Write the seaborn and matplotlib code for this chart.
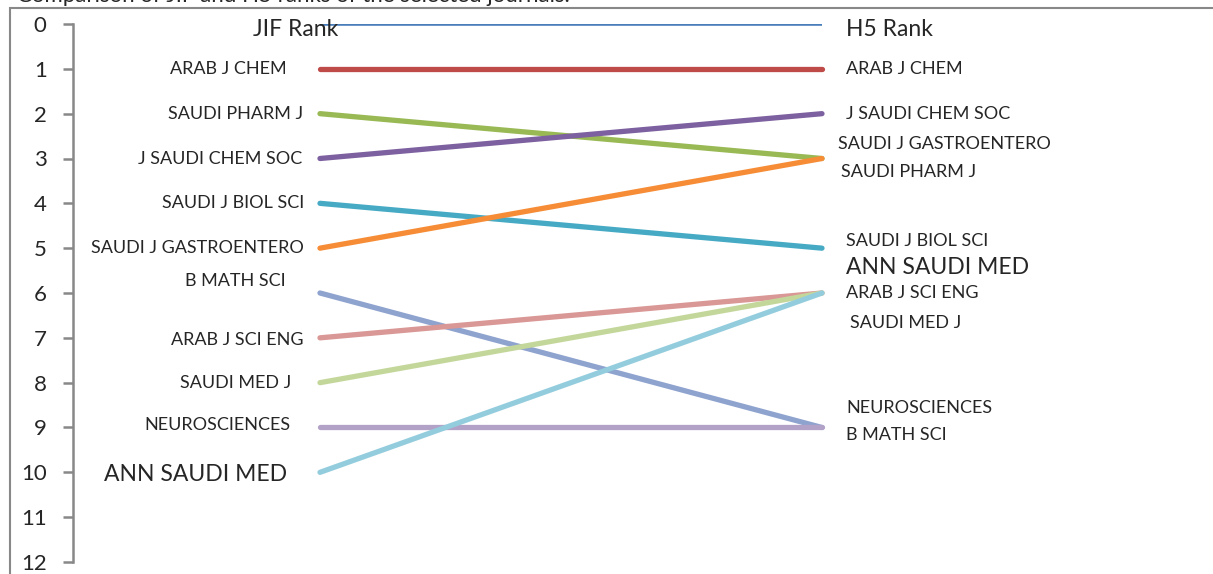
import pandas as pd
import numpy as np
import matplotlib.pyplot as plt
from matplotlib.patches import Rectangle
from matplotlib.transforms import offset_copy
import seaborn as sns

# ── Data ─────────────────────────────────────────────────────────────────────
journals = ["HEADER", "ARAB J CHEM", "SAUDI PHARM J", "J SAUDI CHEM SOC",
            "SAUDI J BIOL SCI", "SAUDI J GASTROENTERO", "B MATH SCI",
            "ARAB J SCI ENG", "SAUDI MED J", "NEUROSCIENCES", "ANN SAUDI MED"]
jif_rank = [0, 1, 2, 3, 4, 5, 6, 7, 8, 9, 10]
h5_rank = [0, 1, 3, 2, 5, 3, 9, 6, 6, 9, 6]
colors = ["#4A7EBB", "#BE4B48", "#98B954", "#7D60A0", "#46AAC5", "#F68C36",
          "#8FA3CF", "#D99795", "#C4D79B", "#B3A2C7", "#93CDDD"]
y_ticks = list(range(0, 13))

# label layout (offsets in rank units / pixels), not data
left_dy = [0.13, 0, 0, 0, 0, 0, -0.27, 0.05, 0, -0.05, 0.04]
left_dx = [18, -33, -17, -18, -16, -16, -34, -16, -29, -29, -33]
right_dy = [0.13, 0, 0.3, 0, -0.16, -0.32, 0.17, 0, 0.67, -0.43, -0.56]
right_dx = [24, 24, 19, 24, 24, 16, 24, 24, 28, 24, 24]
big = {"HEADER", "ANN SAUDI MED"}

df = pd.DataFrame({"journal": journals * 2,
                   "side": [0] * len(journals) + [1] * len(journals),
                   "rank": jif_rank + h5_rank})

sns.set_style("white")
plt.rcParams["font.family"] = ["Lato", "DejaVu Sans"]

fig = plt.figure(figsize=(12.13, 5.74), dpi=100)
ax = fig.add_axes([73 / 1213, 12 / 574, 1140 / 1213, 538 / 574])

pal = dict(zip(journals, colors))
sns.lineplot(data=df, x="side", y="rank", hue="journal", palette=pal,
             hue_order=journals, legend=False, ax=ax, lw=3.8,
             solid_capstyle="round")
ax.lines[0].set_linewidth(2.6)
ax.lines[0].set_solid_capstyle("butt")

ax.set_xlim(-0.492, -0.492 + 1140 / 502)
ax.set_ylim(12, 0)
ax.set_yticks(y_ticks)
ax.set_yticklabels([str(t) for t in y_ticks], fontsize=16)
ax.set_xticks([])
ax.set_xlabel("")
ax.set_ylabel("")
for s in ["top", "right", "bottom"]:
    ax.spines[s].set_visible(False)
ax.spines["left"].set_color("#888888")
ax.spines["left"].set_linewidth(1.8)
ax.tick_params(axis="y", direction="out", length=7, width=1.8,
               color="#888888", pad=12, left=True)

for i, name in enumerate(journals):
    lab_l = "JIF Rank" if name == "HEADER" else name
    lab_r = "H5 Rank" if name == "HEADER" else name
    fs = 16.5 if name in big else 13
    tl = offset_copy(ax.transData, fig=fig, x=left_dx[i] * 0.72, y=0, units="points")
    tr = offset_copy(ax.transData, fig=fig, x=right_dx[i] * 0.72, y=0, units="points")
    ax.text(0, jif_rank[i] + left_dy[i], lab_l, ha="right", va="center",
            fontsize=fs, transform=tl)
    ax.text(1, h5_rank[i] + right_dy[i], lab_r, ha="left", va="center",
            fontsize=fs, transform=tr)

# outer chart frame, clipped by the image edges
fig.patches.append(Rectangle((10 / 1213, -0.1), 1.2, (574 - 8) / 574 + 0.1,
                             transform=fig.transFigure, fill=False,
                             edgecolor="#888888", lw=1.5))
# caption above the chart, mostly cut off in the source image
fig.text(17 / 1213, 1 - 2 / 574, "Comparison of JIF and H5 ranks of the selected journals.",
         ha="left", va="baseline", fontsize=16)

fig.savefig("out.png", dpi=100)
